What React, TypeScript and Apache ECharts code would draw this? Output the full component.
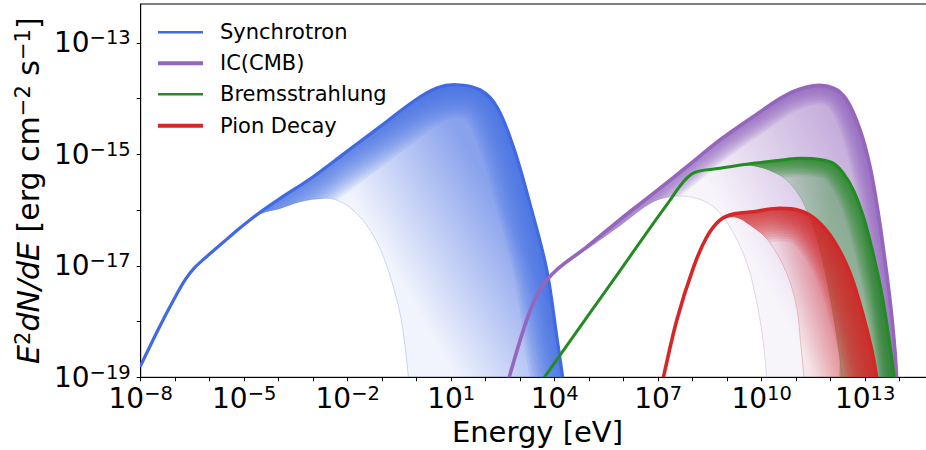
import React, { useEffect, useRef } from "react";
import * as echarts from "echarts";

// Each point: [log10(Energy / eV), log10(E^2 dN/dE / erg cm^-2 s^-1)]
type Pt = [number, number];

// ---------- Synchrotron ----------
const synchCommon: Pt[] = [
  [-8.0, -18.79], [-7.5, -18.15], [-7.0, -17.56], [-6.7, -17.24], [-6.45, -17.04],
  [-6.1, -16.84], [-5.5, -16.52], [-5.0, -16.26],
];
const synchStrong: Pt[] = [
  [-4.5, -16.02], [-3.96, -15.79], [-3.0, -15.4], [-2.03, -14.95], [-1.06, -14.5],
  [-0.1, -14.05], [0.58, -13.81], [1.16, -13.75], [1.83, -13.84], [2.32, -14.14],
  [2.8, -14.86], [3.28, -15.88], [3.77, -17.07], [4.06, -18.27], [4.23, -19.0], [4.28, -19.35],
];
const synchFaint: Pt[] = [
  [-4.5, -16.06], [-3.96, -15.97], [-3.38, -15.85], [-2.71, -15.79], [-2.32, -15.82],
  [-1.84, -16.0], [-1.35, -16.36], [-0.97, -16.83], [-0.68, -17.37], [-0.43, -18.03],
  [-0.24, -19.0], [-0.2, -19.35],
];

// ---------- IC (CMB) ----------
const icCommon: Pt[] = [
  [2.6, -19.2], [2.68, -19.0], [3.19, -17.97], [3.57, -17.43], [4.06, -17.07],
];
const icStrong: Pt[] = [
  [4.93, -16.66], [5.89, -16.17], [6.86, -15.7], [7.83, -15.22], [8.79, -14.74],
  [9.76, -14.32], [10.72, -13.93], [11.5, -13.77], [12.08, -13.81], [12.46, -14.02],
  [12.85, -14.56], [13.14, -15.22], [13.38, -16.06], [13.57, -16.89], [13.74, -17.73],
  [13.86, -18.51], [13.91, -19.0], [13.94, -19.35],
];
const icFaint: Pt[] = [
  [4.93, -16.7], [5.89, -16.28], [6.86, -15.85], [7.54, -15.75], [8.12, -15.79],
  [8.6, -15.94], [9.08, -16.3], [9.57, -16.95], [9.86, -17.67], [10.05, -18.39],
  [10.14, -19.0], [10.17, -19.35],
];

// ---------- Bremsstrahlung ----------
const bremCommon: Pt[] = [
  [3.62, -19.07], [5.9, -17.08], [7.3, -15.86], [7.97, -15.35], [8.79, -15.25], [9.3, -15.2],
];
const bremStrong: Pt[] = [
  [9.76, -15.16], [10.72, -15.09], [11.11, -15.07], [11.69, -15.09], [12.08, -15.16],
  [12.37, -15.34], [12.66, -15.64], [12.95, -16.12], [13.23, -16.77], [13.48, -17.49],
  [13.67, -18.21], [13.84, -19.0], [13.88, -19.35],
];
const bremFaint: Pt[] = [
  [9.7, -15.2], [10.2, -15.28], [10.7, -15.45], [11.1, -15.75], [11.5, -16.3],
  [11.8, -17.0], [12.05, -17.8], [12.25, -18.6], [12.4, -19.35],
];

// ---------- Pion Decay ----------
const pionCommon: Pt[] = [
  [7.12, -19.1], [7.15, -19.0], [7.54, -17.97], [8.02, -17.03], [8.41, -16.48], [8.79, -16.18],
];
const pionStrong: Pt[] = [
  [9.18, -16.07], [9.76, -16.03], [10.43, -15.97], [11.11, -16.01], [11.59, -16.18],
  [12.08, -16.54], [12.56, -17.13], [12.95, -17.91], [13.19, -18.51], [13.33, -19.0], [13.37, -19.35],
];
const pionFaint: Pt[] = [
  [9.18, -16.12], [9.55, -16.22], [10.18, -16.54], [10.72, -17.13], [11.01, -17.73],
  [11.12, -18.33], [11.22, -19.0], [11.25, -19.35],
];

// ---------- axes ----------
const xTickExps = [-8, -7, -6, -5, -4, -3, -2, -1, 0, 1, 2, 3, 4, 5, 6, 7, 8, 9, 10, 11, 12, 13, 14];
const xLabelExps = [-8, -5, -2, 1, 4, 7, 10, 13];
const yTickExps = [-19, -18, -17, -16, -15, -14, -13];
const yLabelExps = [-19, -17, -15, -13];
const legendNames = ["Synchrotron", "IC(CMB)", "Bremsstrahlung", "Pion Decay"];

// ---------- styles ----------
const FONT = "DejaVu Sans";
type Fam = {
  name: string;
  rgb: [number, number, number];
  width: number;
  band: number; // full stroke width of the dense band along the outer edge (px)
  baseMax: number;
  common: Pt[];
  strong: Pt[];
  faint: Pt[];
  gradFrom: Pt;
  gradTo: Pt;
};
const families: Fam[] = [
  { name: legendNames[0], rgb: [65, 105, 225], width: 3.2, band: 66, baseMax: 0.62, common: synchCommon, strong: synchStrong, faint: synchFaint, gradFrom: [-0.19, -17.61], gradTo: [2.95, -16.49] },
  { name: legendNames[1], rgb: [148, 103, 189], width: 3.6, band: 38, baseMax: 0.6, common: icCommon, strong: icStrong, faint: icFaint, gradFrom: [9.51, -16.71], gradTo: [13.53, -15.28] },
  { name: legendNames[2], rgb: [34, 139, 34], width: 3.0, band: 36, baseMax: 0.4, common: bremCommon, strong: bremStrong, faint: bremFaint, gradFrom: [9.95, -15.5], gradTo: [11.98, -15.5] },
  { name: legendNames[3], rgb: [214, 39, 40], width: 3.6, band: 66, baseMax: 0.55, common: pionCommon, strong: pionStrong, faint: pionFaint, gradFrom: [10.81, -17.61], gradTo: [12.07, -17.4] },
];
const legendWidths = [2.6, 4, 2.6, 4];
const bandLayers = [1, 0.92, 0.84, 0.76, 0.68, 0.6, 0.52, 0.44, 0.36, 0.28, 0.2, 0.12];

const rgba = (c: [number, number, number], a: number) => `rgba(${c[0]},${c[1]},${c[2]},${a})`;
const supText = (v: number) => (v < 0 ? "\u2212" + Math.abs(v) : String(v));
const SMOOTH = 0.35;

const makeRender = (fam: Fam) => (_params: any, api: any) => {
  const px = (p: Pt) => api.coord(p);
  const common = fam.common.map(px);
  const strong = fam.strong.map(px);
  const faint = fam.faint.map(px);
  const joint = common[common.length - 1];
  const poly = [joint, ...strong, ...faint.slice().reverse()];
  const strongLine = [...common, ...strong];
  const a = px(fam.gradFrom);
  const b = px(fam.gradTo);
  const fill = new echarts.graphic.LinearGradient(
    a[0], a[1], b[0], b[1],
    [
      { offset: 0, color: rgba(fam.rgb, 0.07) },
      { offset: 1, color: rgba(fam.rgb, fam.baseMax) },
    ],
    true
  );
  return {
    type: "group",
    children: [
      { type: "polygon", shape: { points: poly, smooth: SMOOTH }, style: { fill, stroke: "none" }, silent: true },
      {
        type: "group",
        clipPath: { type: "polygon", shape: { points: poly, smooth: SMOOTH } },
        children: bandLayers.map((f) => ({
          type: "polyline",
          shape: { points: strongLine, smooth: SMOOTH },
          style: { stroke: rgba(fam.rgb, 0.11), lineWidth: fam.band * f, fill: "none", lineJoin: "round" },
          silent: true,
        })),
      },
      { type: "polyline", shape: { points: [...common, ...faint], smooth: SMOOTH }, style: { stroke: rgba(fam.rgb, 0.25), lineWidth: 1, fill: "none" }, silent: true },
      { type: "polyline", shape: { points: strongLine, smooth: SMOOTH }, style: { stroke: rgba(fam.rgb, 1), lineWidth: fam.width, fill: "none", lineJoin: "round", lineCap: "round" }, silent: true },
    ],
  };
};

const labelRich = {
  b: { fontSize: 28, fontFamily: FONT, color: "#000", lineHeight: 30 },
  s: { fontSize: 19.5, fontFamily: FONT, color: "#000", lineHeight: 16, verticalAlign: "top" },
};

export default function App() {
  const ref = useRef<HTMLDivElement>(null);
  useEffect(() => {
    document.body.style.margin = "0";
    if (!ref.current) return;
    const chart = echarts.init(ref.current, undefined, { renderer: "svg" });
    const rowY = [32.3, 63.3, 94.3, 125.7];
    chart.setOption({
      animation: false,
      backgroundColor: "#fff",
      grid: {
        left: 140.7, top: 4, width: 793.5, height: 373.3,
        show: true, borderColor: "#000", borderWidth: 1, backgroundColor: "transparent",
        outerBoundsMode: "none", containLabel: false,
      },
      xAxis: {
        type: "value", min: -8, max: 15, interval: 1,
        axisLine: { show: true, onZero: false, lineStyle: { color: "#000", width: 1 } },
        axisTick: { show: true, customValues: xTickExps, length: 4, lineStyle: { color: "#000", width: 1 } },
        axisLabel: { customValues: xLabelExps, margin: 6, formatter: (v: number) => `{b|10}{s|${supText(v)}}`, rich: labelRich },
        splitLine: { show: false },
        name: "Energy [eV]", nameLocation: "middle", nameGap: 38,
        nameTextStyle: { fontSize: 29, fontFamily: FONT, color: "#000" },
      },
      yAxis: {
        type: "value", min: -19, max: -12.301, interval: 1,
        axisLine: { show: true, onZero: false, lineStyle: { color: "#000", width: 1 } },
        axisTick: { show: true, customValues: yTickExps, length: 4, lineStyle: { color: "#000", width: 1 } },
        axisLabel: { customValues: yLabelExps, margin: 10, formatter: (v: number) => `{b|10}{s|${supText(v)}}`, rich: labelRich },
        splitLine: { show: false },
        name: "{i|E}{s|2}{i|dN/dE}{r| [erg cm}{s|\u22122}{r| s}{s|\u22121}{r|]}",
        nameLocation: "middle", nameGap: 96, nameRotate: 90,
        nameTextStyle: {
          fontSize: 30, fontFamily: FONT, color: "#000",
          rich: {
            i: { fontSize: 30, fontFamily: FONT, fontStyle: "italic", color: "#000", lineHeight: 32 },
            r: { fontSize: 30, fontFamily: FONT, color: "#000", lineHeight: 32 },
            s: { fontSize: 21, fontFamily: FONT, color: "#000", lineHeight: 17, verticalAlign: "top" },
          },
        },
      },
      series: families.map((fam, i) => ({
        type: "custom",
        name: fam.name,
        coordinateSystem: "cartesian2d",
        clip: true,
        z: 2 + i,
        data: [[0, -19]],
        renderItem: makeRender(fam),
        silent: true,
      })),
      graphic: families.map((fam, i) => ({
        type: "group",
        children: [
          { type: "line", shape: { x1: 158, y1: rowY[i], x2: 203, y2: rowY[i] }, style: { stroke: rgba(fam.rgb, 1), lineWidth: legendWidths[i] } },
          { type: "text", style: { text: legendNames[i], x: 220, y: rowY[i], fontSize: 21, fontFamily: FONT, fill: "#000", verticalAlign: "middle", align: "left" } },
        ],
      })),
    });
    return () => chart.dispose();
  }, []);
  return <div ref={ref} style={{ width: 926, height: 450 }} />;
}
